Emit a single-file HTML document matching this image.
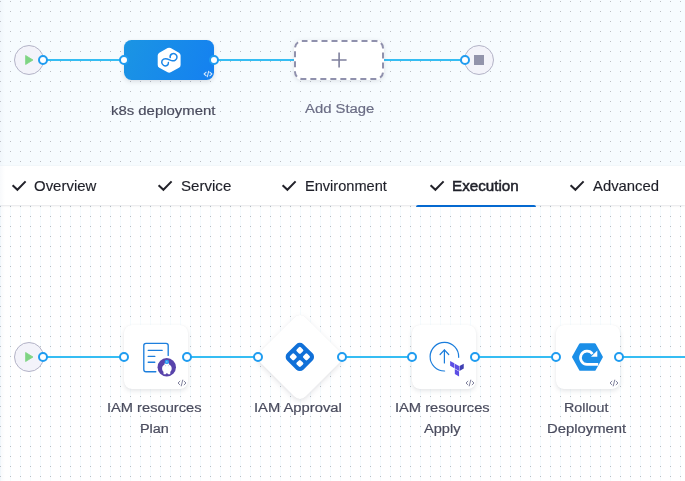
<!DOCTYPE html>
<html><head><meta charset="utf-8">
<style>
html,body{margin:0;padding:0;}
body{width:685px;height:481px;overflow:hidden;position:relative;background:#fff;font-family:"Liberation Sans",sans-serif;}
.abs{position:absolute;}
#top{left:0;top:0;width:685px;height:166px;background-color:#f6fbfe;
 background-image:radial-gradient(circle at 0.5px 1.5px,#bbbec3 0.5px,rgba(187,190,195,0) 0.75px);background-size:10px 10px;background-position:0 0;}
#bot{left:0;top:205px;width:685px;height:276px;background-color:#fff;
 background-image:radial-gradient(circle at 0.5px 1.5px,#bbbec3 0.5px,rgba(187,190,195,0) 0.75px),linear-gradient(90deg,#f5fbfe 1px,rgba(255,255,255,0) 1px);background-size:10px 10px,10px 10px;background-position:0 0,0 0;}
#tabs{left:0;top:166px;width:685px;height:39px;background:#fff;box-shadow:0 1px 2px rgba(40,41,61,0.10),0 0 1px rgba(40,41,61,0.08);}
.edge{left:0;top:0;width:5px;height:481px;background:linear-gradient(90deg,rgba(215,224,236,0.18),rgba(215,224,236,0));}
.t{position:absolute;white-space:nowrap;line-height:1;}
.tab{font-size:14px;color:#1f2029;-webkit-text-stroke:0.15px #1f2029;}
.lbl{font-size:13px;color:#4a4c5e;-webkit-text-stroke:0.2px #4a4c5e;}
.line{position:absolute;height:2px;background:#35bdf3;}
.port{position:absolute;width:6px;height:6px;border:2px solid #1f9cf0;border-radius:50%;background:#fff;}
.term{position:absolute;width:28px;height:28px;border:1px solid #b3b3c7;border-radius:50%;background:#f3f3fa;}
.step{position:absolute;width:64px;height:64px;background:#fff;border-radius:8px;box-shadow:0 0 1px rgba(40,41,61,0.06),0 2px 4px rgba(96,97,112,0.16);}
svg{position:absolute;overflow:visible;}
</style></head><body>
<div id="top" class="abs"></div>
<div id="bot" class="abs"></div>
<div id="tabs" class="abs"></div>
<div class="abs" style="left:416px;top:205px;width:120px;height:2px;background:#0569d0;border-radius:2px 2px 0 0;"></div>
<div class="abs edge"></div>

<!-- top pipeline -->
<div class="line" style="left:43px;top:59px;width:81px;"></div>
<div class="line" style="left:214px;top:59px;width:80px;"></div>
<div class="line" style="left:384px;top:59px;width:81px;"></div>
<div class="term" style="left:14px;top:45px;"></div>
<svg style="left:25px;top:55px;" width="9" height="10" viewBox="0 0 9 10"><path d="M0.6 0.5 L8 5 L0.6 9.5 Z" fill="#7fd483" stroke="#7fd483" stroke-width="0.8" stroke-linejoin="round"/></svg>
<div class="term" style="left:464px;top:45px;"></div>
<div class="abs" style="left:474px;top:55px;width:10px;height:10px;background:#9293ab;"></div>

<div class="abs" id="stage" style="left:124px;top:40px;width:90px;height:40px;border-radius:7.5px;background:linear-gradient(115deg,#1b95e3 0%,#1480f1 100%);box-shadow:0 2px 4px rgba(40,41,61,0.12),0 0 1px rgba(40,41,61,0.1);"></div>
<svg style="left:157px;top:47px;" width="25" height="27" viewBox="157 47 25 27">
 <path d="M169.15 50.9 L177.4 55.5 L177.4 64.9 L169.15 69.5 L160.9 64.9 L160.9 55.5 Z" fill="#fff" stroke="#fff" stroke-width="6.4" stroke-linejoin="round"/>
 <path d="M168.4 62.6 C168.6 65.4 165.8 66.6 163.6 65.4 C161.2 64 161 60.6 163.6 59.2 C166.4 57.8 169 59.8 171.6 60.6 C174.4 61.4 177 59.6 177 57 C177 54.4 174.2 52.8 171.8 54 C170.4 54.8 169.9 56.2 170.2 57.6" fill="none" stroke="#1a86e8" stroke-width="1.5" stroke-linecap="round"/>
</svg>
<svg style="left:203px;top:70px;" width="10" height="8" viewBox="203 70 10 8"><path d="M206.2 72.2 L204.1 74 L206.2 75.8 M209.8 72.2 L211.9 74 L209.8 75.8 M208.7 71.2 L207.3 76.8" fill="none" stroke="rgba(255,255,255,0.82)" stroke-width="1.05" stroke-linecap="round" stroke-linejoin="round"/></svg>

<svg style="left:292px;top:38px;" width="94" height="44" viewBox="292 38 94 44">
 <rect x="294" y="40" width="90" height="40" rx="8" ry="8" fill="#fff" stroke="none" style="filter:drop-shadow(0 1px 2px rgba(40,41,61,0.12))"/><rect x="295" y="41" width="88" height="38" rx="7" ry="7" fill="#fff" stroke="#9091ad" stroke-width="2" stroke-dasharray="6 4" stroke-dashoffset="0.5"/>
 <path d="M331.6 60 H346.6 M339.1 52.5 V67.5" stroke="#7f809d" stroke-width="1.6" fill="none"/>
</svg>

<div class="port" style="left:38px;top:55px;"></div>
<div class="port" style="left:119px;top:55px;"></div>
<div class="port" style="left:209px;top:55px;"></div>
<div class="port" style="left:460px;top:55px;"></div>

<!-- bottom pipeline -->
<div class="line" style="left:43px;top:356px;width:81px;"></div>
<div class="line" style="left:187px;top:356px;width:71px;"></div>
<div class="line" style="left:342px;top:356px;width:70px;"></div>
<div class="line" style="left:475px;top:356px;width:81px;"></div>
<div class="line" style="left:619px;top:356px;width:66px;"></div>
<div class="term" style="left:14px;top:342px;"></div>
<svg style="left:25px;top:352px;" width="9" height="10" viewBox="0 0 9 10"><path d="M0.6 0.5 L8 5 L0.6 9.5 Z" fill="#7fd483" stroke="#7fd483" stroke-width="0.8" stroke-linejoin="round"/></svg>

<div class="step" style="left:124px;top:325px;"></div>
<div class="abs" style="left:268px;top:325px;width:64px;height:64px;filter:drop-shadow(0 2px 2.5px rgba(96,97,112,0.17)) drop-shadow(0 0 0.5px rgba(40,41,61,0.08));"><div style="width:64px;height:64px;background:#fff;border-radius:8px;transform:rotate(45deg);"></div></div>
<div class="step" style="left:412px;top:325px;"></div>
<div class="step" style="left:556px;top:325px;"></div>

<!-- icon 1: doc + badge -->
<svg style="left:140px;top:340px;" width="40" height="40" viewBox="140 340 40 40">
 <path d="M168.2 355.4 V345.6 Q168.2 343.4 166 343.4 H146 Q143.8 343.4 143.8 345.6 V369.4 Q143.8 371.7 146 371.7 H155.8" fill="none" stroke="#1d7fdd" stroke-width="1.35" stroke-linecap="round"/>
 <path d="M148.2 350.3 H162.2 M148.2 356.4 H154.8 M148.2 362.2 H154.8" stroke="#1d7fdd" stroke-width="1.35" stroke-linecap="round" fill="none"/>
 <circle cx="166.75" cy="367.2" r="9.2" fill="#5843ab"/>
 <path d="M166.85 362.3 C168.6 362.3 169.3 363.6 169.3 364.8 C170.6 365.4 171.7 366.6 171.7 368.4 C171.7 370 171 371 170.3 371.8 L170.3 373.4 Q170.3 374.3 169.4 374.3 L168.3 374.3 Q167.5 374.3 167.5 373.3 L166.3 373.3 Q166.3 374.3 165.5 374.3 L164.4 374.3 Q163.5 374.3 163.5 373.4 L163.5 371.8 C162.8 371 162.1 370 162.1 368.4 C162.1 366.6 163.2 365.4 164.4 364.8 C164.4 363.6 165.1 362.3 166.85 362.3 Z" fill="#fff"/>
 <circle cx="165.5" cy="365.7" r="0.45" fill="#a8a8b4"/><circle cx="168.3" cy="365.7" r="0.45" fill="#a8a8b4"/>
 <circle cx="166.85" cy="361.9" r="2.2" fill="#2a9df4"/>
 <path d="M166.4 361.2 L167.8 361.9 L166.4 362.6 Z" fill="#fff"/>
</svg>
<!-- icon 2: approval -->
<svg style="left:284px;top:341px;" width="32" height="32" viewBox="-16 -16 32 32">
 <g transform="translate(-0.15,-0.1) rotate(45)">
  <path fill-rule="evenodd" fill="#1070d8" d="M-6.5 -11.5 H6.5 A5 5 0 0 1 11.5 -6.5 V6.5 A5 5 0 0 1 6.5 11.5 H-6.5 A5 5 0 0 1 -11.5 6.5 V-6.5 A5 5 0 0 1 -6.5 -11.5 Z
  M-6.22 -7.52 H-3.12 A1.3 1.3 0 0 1 -1.82 -6.22 V-3.12 A1.3 1.3 0 0 1 -3.12 -1.82 H-6.22 A1.3 1.3 0 0 1 -7.52 -3.12 V-6.22 A1.3 1.3 0 0 1 -6.22 -7.52 Z M-6.22 1.82 H-3.12 A1.3 1.3 0 0 1 -1.82 3.12 V6.22 A1.3 1.3 0 0 1 -3.12 7.52 H-6.22 A1.3 1.3 0 0 1 -7.52 6.22 V3.12 A1.3 1.3 0 0 1 -6.22 1.82 Z M3.12 -7.52 H6.22 A1.3 1.3 0 0 1 7.52 -6.22 V-3.12 A1.3 1.3 0 0 1 6.22 -1.82 H3.12 A1.3 1.3 0 0 1 1.82 -3.12 V-6.22 A1.3 1.3 0 0 1 3.12 -7.52 Z M3.12 1.82 H6.22 A1.3 1.3 0 0 1 7.52 3.12 V6.22 A1.3 1.3 0 0 1 6.22 7.52 H3.12 A1.3 1.3 0 0 1 1.82 6.22 V3.12 A1.3 1.3 0 0 1 3.12 1.82 Z"/>
 </g>
</svg>
<!-- icon 3: apply -->
<svg style="left:426px;top:338px;" width="42" height="42" viewBox="426 338 42 42">
 <path d="M458.7 357.3 A14.3 14.3 0 1 0 444.6 371" fill="none" stroke="#1a7ddc" stroke-width="1.2" stroke-linecap="round"/>
 <path d="M444.4 362.9 V349.7 M440.1 354.5 L444.4 349.8 L448.7 354.5" fill="none" stroke="#1a7ddc" stroke-width="1.2" stroke-linecap="round" stroke-linejoin="round"/>
 <g transform="translate(449.2,360.9) scale(0.645)">
  <path fill="#5c4ee5" d="M1.44 0v7.575l6.561 3.79V3.787z"/>
  <path fill="#4040b2" d="M22.56 4.227l-6.561 3.791v7.574l6.56-3.787z"/>
  <path fill="#5c4ee5" d="M8.72 4.23v7.575l6.561 3.787V8.018z"/>
  <path fill="#5c4ee5" d="M8.72 12.635v7.575L15.28 24v-7.578z"/>
 </g>
</svg>
<!-- icon 4: rollout -->
<svg style="left:570px;top:341px;" width="36" height="32" viewBox="570 341 36 32">
 <path d="M573.2 357 L580.3 344.4 H594.6 L601.7 357 L594.6 369.6 H580.3 Z" fill="#1b8fe8" stroke="#1b8fe8" stroke-width="2.4" stroke-linejoin="round"/>
 <path d="M592.5 354 A6.6 6.6 0 1 0 587 364.4 H598.2" fill="none" stroke="#fff" stroke-width="2.7"/>
 <path d="M597.3 350.5 V356.7 H591 Z" fill="#fff"/>
</svg>

<!-- code icons -->
<svg style="left:177px;top:379px;" width="10" height="8" viewBox="203 70 10 8"><path d="M205.9 72.2 L204 74 L205.9 75.8 M210.1 72.2 L212 74 L210.1 75.8 M208.7 71.1 L207.3 76.9" fill="none" stroke="#7a7b98" stroke-width="0.95" stroke-linecap="round" stroke-linejoin="round"/></svg>
<svg style="left:465px;top:379px;" width="10" height="8" viewBox="203 70 10 8"><path d="M205.9 72.2 L204 74 L205.9 75.8 M210.1 72.2 L212 74 L210.1 75.8 M208.7 71.1 L207.3 76.9" fill="none" stroke="#7a7b98" stroke-width="0.95" stroke-linecap="round" stroke-linejoin="round"/></svg>
<svg style="left:609px;top:379px;" width="10" height="8" viewBox="203 70 10 8"><path d="M205.9 72.2 L204 74 L205.9 75.8 M210.1 72.2 L212 74 L210.1 75.8 M208.7 71.1 L207.3 76.9" fill="none" stroke="#7a7b98" stroke-width="0.95" stroke-linecap="round" stroke-linejoin="round"/></svg>

<div class="port" style="left:38px;top:352px;"></div>
<div class="port" style="left:119px;top:352px;"></div>
<div class="port" style="left:182px;top:352px;"></div>
<div class="port" style="left:253px;top:352px;"></div>
<div class="port" style="left:337px;top:352px;"></div>
<div class="port" style="left:407px;top:352px;"></div>
<div class="port" style="left:470px;top:352px;"></div>
<div class="port" style="left:551px;top:352px;"></div>
<div class="port" style="left:614px;top:352px;"></div>

<!-- tab checks -->
<svg style="left:0;top:166px;" width="685" height="39" viewBox="0 166 685 39">
 <g fill="none" stroke="#22222a" stroke-width="2" stroke-linecap="butt" stroke-linejoin="miter">
  <path id="ck" d="M12.6 185.2 L17.4 189.8 L25.6 181.4"/>
  <path d="M12.6 185.2 L17.4 189.8 L25.6 181.4" transform="translate(146,0)"/>
  <path d="M12.6 185.2 L17.4 189.8 L25.6 181.4" transform="translate(270,0)"/>
  <path d="M12.6 185.2 L17.4 189.8 L25.6 181.4" transform="translate(418,0)"/>
  <path d="M12.6 185.2 L17.4 189.8 L25.6 181.4" transform="translate(558,0)"/>
 </g>
</svg>

<!-- text -->
<span class="t tab" id="t1" style="left:34.44px;top:179.03px;font-size:14.5px;transform:scaleX(1.0316);transform-origin:0 0;">Overview</span>
<span class="t tab" id="t2" style="left:181.32px;top:179.03px;font-size:14.5px;transform:scaleX(1.0401);transform-origin:0 0;">Service</span>
<span class="t tab" id="t3" style="left:304.96px;top:179.03px;font-size:14.5px;transform:scaleX(1.0052);transform-origin:0 0;">Environment</span>
<span class="t tab" id="t4" style="left:452.40px;top:179.03px;font-size:14.5px;transform:scaleX(1.0478);transform-origin:0 0;-webkit-text-stroke:0.5px #1f2029">Execution</span>
<span class="t tab" id="t5" style="left:593.40px;top:179.03px;font-size:14.5px;transform:scaleX(1.0234);transform-origin:0 0;">Advanced</span>
<span class="t lbl" id="l1" style="left:110.80px;top:104.20px;font-size:13.7px;transform:scaleX(1.0886);transform-origin:0 0;">k8s deployment</span>
<span class="t lbl" id="l2" style="left:304.66px;top:102.40px;font-size:13.7px;transform:scaleX(1.0847);transform-origin:0 0;color:#6b6d85;-webkit-text-stroke-color:#6b6d85">Add Stage</span>
<span class="t lbl" id="l3" style="left:107.48px;top:401.20px;font-size:13.7px;transform:scaleX(1.0706);transform-origin:0 0;">IAM resources</span>
<span class="t lbl" id="l4" style="left:140.00px;top:421.90px;font-size:13.7px;transform:scaleX(1.0536);transform-origin:0 0;">Plan</span>
<span class="t lbl" id="l5" style="left:254.32px;top:401.20px;font-size:13.7px;transform:scaleX(1.0780);transform-origin:0 0;">IAM Approval</span>
<span class="t lbl" id="l6" style="left:394.92px;top:401.20px;font-size:13.7px;transform:scaleX(1.0728);transform-origin:0 0;">IAM resources</span>
<span class="t lbl" id="l7" style="left:424.40px;top:421.90px;font-size:13.7px;transform:scaleX(1.0663);transform-origin:0 0;">Apply</span>
<span class="t lbl" id="l8" style="left:564.24px;top:401.20px;font-size:13.7px;transform:scaleX(1.0427);transform-origin:0 0;">Rollout</span>
<span class="t lbl" id="l9" style="left:546.68px;top:421.90px;font-size:13.7px;transform:scaleX(1.0837);transform-origin:0 0;">Deployment</span>
</body></html>
